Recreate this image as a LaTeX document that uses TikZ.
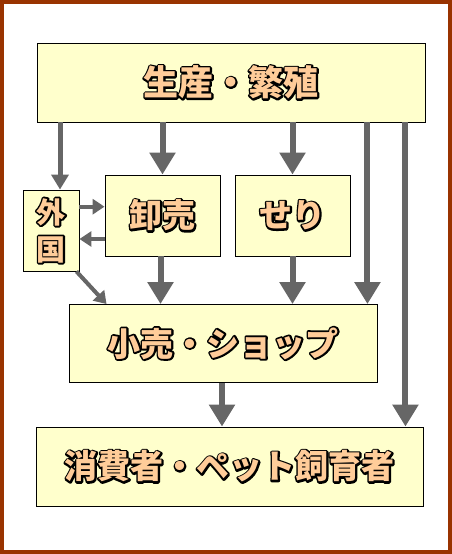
\documentclass[tikz,border=0pt]{standalone}
\usepackage{fontspec}
\usetikzlibrary{arrows.meta}
\newfontfamily\jpfont{Noto Sans CJK JP}
\definecolor{framebrown}{RGB}{153,51,0}
\definecolor{boxyellow}{RGB}{255,255,204}
\definecolor{peach}{RGB}{255,204,153}
\definecolor{arrowgray}{RGB}{102,102,102}
% black stroked copy under a peach copy
\newcommand{\poptext}[1]{\rlap{\color{black}\special{pdf:literal direct 2 Tr 3.6 w 1 j}#1\special{pdf:literal direct 0 Tr 0.4 w 0 j}}\textcolor{peach}{#1}}

\begin{document}
\begin{tikzpicture}[
                x=1pt, y=-1pt,
                box/.style={draw=black, line width=0.9pt, fill=boxyellow, inner sep=0pt,
                            font=\jpfont\bfseries\fontsize{33}{36}\selectfont},
                bigarrow/.style={draw=arrowgray, line width=6pt, -{Triangle[width=25pt, length=22pt]}, arrowgray},
                smallarrow/.style={draw=arrowgray, line width=4pt, -{Triangle[width=15pt, length=12pt]}, arrowgray}
            ]
            % Page size and brown frame
            \useasboundingbox (0,0) rectangle (452,554);
            \draw[framebrown, line width=4pt] (2,2) rectangle (450,552);

            % Boxes
            \node[box, minimum width=388pt, minimum height=79pt,
                  font=\jpfont\bfseries\fontsize{35}{36}\selectfont] (prod) at (231,82.5) {\poptext{生産・繁殖}};
            \node[box, minimum width=56pt, minimum height=81pt, align=center,
                  font=\jpfont\bfseries\fontsize{29}{37}\selectfont] (abroad) at (51,230.5)
                  {\poptext{外}\\\poptext{国}};
            \node[box, minimum width=115pt, minimum height=81pt] (whole) at (162.5,215.5) {\poptext{卸売}};
            \node[box, minimum width=115pt, minimum height=81pt] (auction) at (292.5,215.5) {\poptext{せり}};
            \node[box, minimum width=308pt, minimum height=78pt] (retail) at (223,343.5) {\poptext{小売・ショップ}};
            \node[box, minimum width=387pt, minimum height=79pt] (consumer) at (229.5,466.5) {\poptext{消費者・ペット飼育者}};

            % Arrows from production
            \draw[smallarrow, line width=5pt, -{Triangle[width=17pt, length=15pt]}]
                ([xshift=9pt]abroad.north |- prod.south) -- ([xshift=9pt]abroad.north);
            \draw[bigarrow] (whole.north |- prod.south) -- (whole.north);
            \draw[bigarrow] (auction.north |- prod.south) -- (auction.north);
            \draw[bigarrow] ([xshift=-10pt]retail.north east |- prod.south) -- ([xshift=-10pt]retail.north east);
            \draw[bigarrow] ([xshift=-18pt]consumer.north east |- prod.south) -- ([xshift=-18pt]consumer.north east);

            % Abroad and wholesale
            \draw[smallarrow] ([yshift=8.8pt]abroad.east |- whole.west) -- ([yshift=8.8pt]whole.west);
            \draw[smallarrow] ([yshift=-23.5pt]whole.west) -- ([yshift=-23.5pt]abroad.east |- whole.west);
            \draw[smallarrow] ([xshift=-3pt]abroad.south east) -- ([xshift=38pt]retail.north west);

            % Down to retail and consumer
            \draw[bigarrow] ([xshift=-2pt]whole.south) -- ([xshift=-2pt]whole.south |- retail.north);
            \draw[bigarrow] (auction.south) -- (auction.south |- retail.north);
            \draw[bigarrow] ([xshift=-1pt]retail.south) -- ([xshift=-1pt]retail.south |- consumer.north);

        \end{tikzpicture}
\end{document}
